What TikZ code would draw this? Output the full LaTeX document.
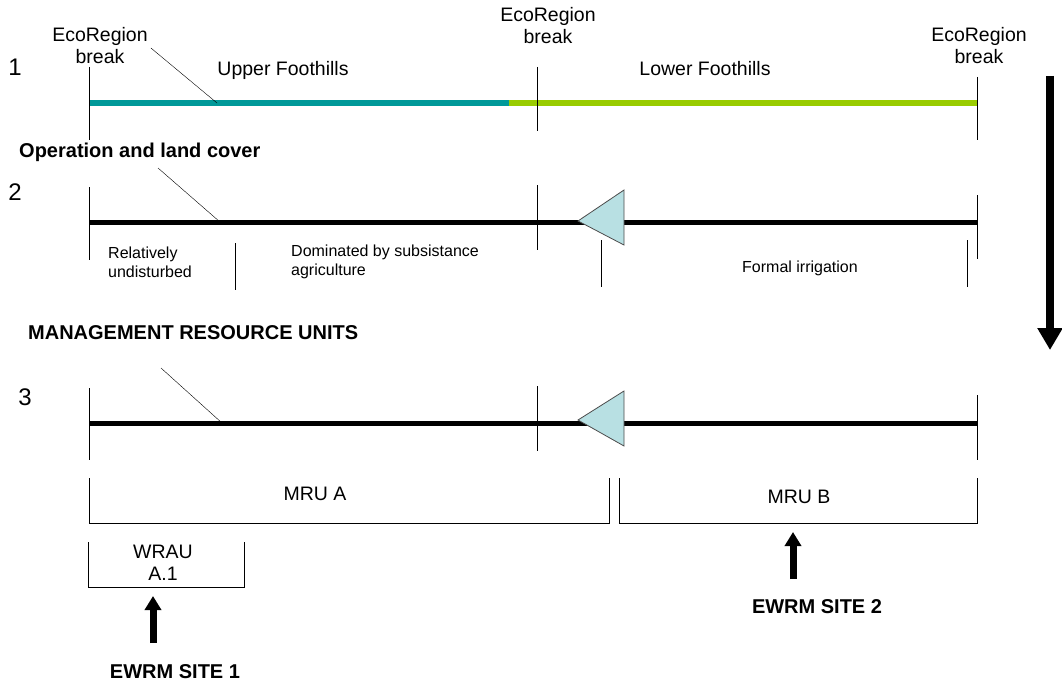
\documentclass[tikz,border=0pt]{standalone}
\usepackage{fontspec}
\setmainfont{Liberation Sans}
\usetikzlibrary{arrows.meta}
\definecolor{ecoteal}{HTML}{009999}
\definecolor{ecogreen}{HTML}{99CC00}
\definecolor{weirfill}{HTML}{B8E0E3}

\begin{document}
\begin{tikzpicture}[x=1pt,y=-1pt,>=latex,
	lbl/.style={font=\fontsize{19.5}{22}\selectfont, align=center, inner sep=0pt},
	small/.style={font=\fontsize{16}{19}\selectfont, align=left, inner sep=0pt},
	head/.style={font=\fontsize{20}{22}\selectfont\bfseries, inner sep=0pt},
	num/.style={font=\fontsize{24}{26}\selectfont, inner sep=0pt},
	tick/.style={line width=1pt},
	reach/.style={line width=5pt},
	weir/.style={draw=black!70, fill=weirfill, line width=0.8pt},
	up/.style={line width=7pt, -{Triangle[width=16pt,length=14pt]}}]
			\useasboundingbox (0,0) rectangle (1062,682);
			%%%	Help Lines
%			\draw [thin, help lines] (0,0) grid[step=50] (1062,682);
			%%%	Ecoregions
			\node[num] (n1) at (15,67) {1};
			\node[lbl] (brk1) at (100,46) {EcoRegion\\break};
			\node[lbl] (brk2) at (548,26) {EcoRegion\\break};
			\node[lbl] (brk3) at (979,46) {EcoRegion\\break};
			\node[lbl] (upper) at (283,70) {Upper Foothills};
			\node[lbl] (lower) at (705,69) {Lower Foothills};
			\draw[ecoteal, line width=6pt] (89,103) -- (509,103);
			\draw[ecogreen, line width=6pt] (509,103) -- (977,103);
			\draw[tick] (89,67) -- (89,140);
			\draw[tick] (537,67) -- (537,131);
			\draw[tick] (977,77) -- (977,140);
			\coordinate (lead1) at (217,103);
			\draw ([shift={(3,2)}]brk1.east) -- (lead1);
			%%%	Operation and land cover
			\node[head, anchor=west] (oplc) at (19,152) {Operation and land cover};
			\node[num] (n2) at (15,192) {2};
			\draw[reach] (89,222) -- (977,222);
			\draw[tick] (89,187) -- (89,260);
			\draw[tick] (537,185) -- (537,250);
			\draw[tick] (977,195) -- (977,259);
			\draw[weir] (578,221) -- (624,190) -- (624,245) -- cycle;
			\coordinate (top2) at (158,168);
			\coordinate (lead2) at (220,222);
			\draw (top2) -- (lead2);
			\draw[tick] (235,243) -- (235,290);
			\draw[tick] (601,240) -- (601,287);
			\draw[tick] (967,240) -- (967,287);
			\node[small, anchor=west] (undist) at (108,262) {Relatively\\undisturbed};
			\node[small, anchor=west] (subs) at (291,262) {Dominated by subsistance\\agriculture};
			\node[small] (irrig) at (800,268) {Formal irrigation};
			%%%	Management resource units
			\node[head, anchor=west] (mru) at (28,333) {MANAGEMENT RESOURCE UNITS};
			\node[num] (n3) at (25,397) {3};
			\draw[reach] (89,423) -- (977,423);
			\draw[tick] (89,388) -- (89,460);
			\draw[tick] (537,386) -- (537,451);
			\draw[tick] (977,395) -- (977,460);
			\draw[weir] (578,420) -- (624,391) -- (624,446) -- cycle;
			\coordinate (top3) at (161,368);
			\coordinate (lead3) at (222,423);
			\draw (top3) -- (lead3);
			\draw (89,478) -- (89,523) -- (609,523) -- (609,478);
			\draw (619,478) -- (619,523) -- (977,523) -- (977,478);
			\node[lbl] (mrua) at (315,494) {MRU A};
			\node[lbl] (mrub) at (799,497) {MRU B};
			\draw (88,542) -- (88,587) -- (244,587) -- (244,542);
			\node[lbl] (wrau) at (163,563) {WRAU\\A.1};
			%%%	Sites
			\node[head] (site1) at (175,672) {EWRM SITE 1};
			\node[head] (site2) at (817,607) {EWRM SITE 2};
			\coordinate (foot1) at (153,643);
			\coordinate (tip1) at (153,596);
			\coordinate (foot2) at (793,579);
			\coordinate (tip2) at (793,532);
			\draw[up] (foot1) -- (tip1);
			\draw[up] (foot2) -- (tip2);
			%%%	Downstream arrow
			\coordinate (flowtop) at (1050,76);
			\coordinate (flowend) at (1050,350);
			\draw[line width=8pt, -{Triangle[width=24pt,length=22pt]}] (flowtop) -- (flowend);
		\end{tikzpicture}
\end{document}
